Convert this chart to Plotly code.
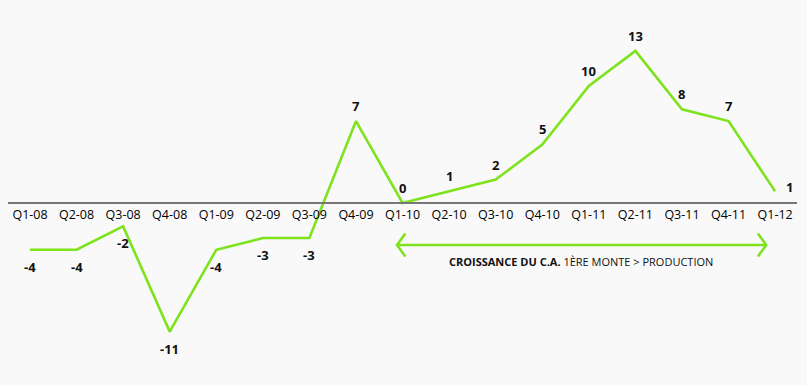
import plotly.graph_objects as go

quarters = ["Q1-08", "Q2-08", "Q3-08", "Q4-08", "Q1-09", "Q2-09", "Q3-09", "Q4-09",
            "Q1-10", "Q2-10", "Q3-10", "Q4-10", "Q1-11", "Q2-11", "Q3-11", "Q4-11", "Q1-12"]
growth = [-4, -4, -2, -11, -4, -3, -3, 7, 0, 1, 2, 5, 10, 13, 8, 7, 1]

GREEN = "#7ee31c"
FONT = "Open Sans"

idx = list(range(len(quarters)))

fig = go.Figure()
fig.add_trace(go.Scatter(x=idx, y=growth, mode="lines",
                         line=dict(color=GREEN, width=2.6), hoverinfo="skip"))

annotations = []
for i, (q, v) in enumerate(zip(quarters, growth)):
    if i == len(quarters) - 1:
        xs, ys = 14, 4
    elif v < 0:
        xs, ys = 0, -17
    else:
        xs, ys = 0, 15
    annotations.append(dict(x=i, y=v, text="<b>%d</b>" % v, showarrow=False,
                            xshift=xs, yshift=ys, xanchor="center", yanchor="middle",
                            font=dict(family=FONT, size=13, color="#111")))

annotations.append(dict(x=11.83, y=-4.96,
                        text="<b>CROISSANCE DU C.A.</b> 1ÈRE MONTE &gt; PRODUCTION",
                        showarrow=False, xanchor="center", yanchor="middle",
                        font=dict(family=FONT, size=11, color="#111")))

# double-headed arrow spanning the growth period
x0, x1, ya = 7.88, 15.81, -3.59
dx, dy = 0.18, 0.98
arrow_path = (f"M {x0},{ya} L {x1},{ya} "
              f"M {x0+dx},{ya+dy} L {x0},{ya} L {x0+dx},{ya-dy} "
              f"M {x1-dx},{ya+dy} L {x1},{ya} L {x1-dx},{ya-dy}")
shapes = [dict(type="path", path=arrow_path, line=dict(color=GREEN, width=2.6),
               xref="x", yref="y")]

fig.update_layout(
    width=807, height=385,
    margin=dict(l=8, r=10, t=0, b=0),
    paper_bgcolor="#f9f9f9", plot_bgcolor="#f9f9f9",
    showlegend=False,
    annotations=annotations,
    shapes=shapes,
    xaxis=dict(range=[-0.4725, 16.47], tickvals=idx, ticktext=quarters,
               showgrid=False, zeroline=False, showline=True, linecolor="#777777",
               linewidth=2, anchor="free", position=0.4728, ticks="",
               tickfont=dict(family=FONT, size=12.5, color="#000")),
    yaxis=dict(range=[-15.56, 17.35], visible=False, showgrid=False, zeroline=False),
)

fig.write_html("out.html")
